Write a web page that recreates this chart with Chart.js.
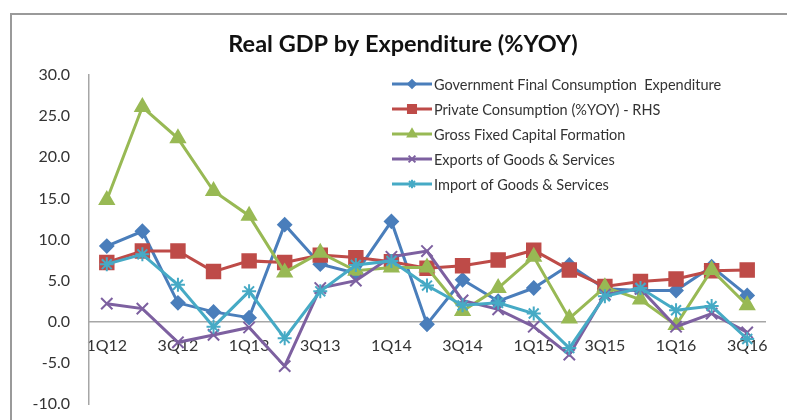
<!DOCTYPE html>
<html>
<head>
<meta charset="utf-8">
<script src="https://cdn.jsdelivr.net/npm/chart.js@4.4.1/dist/chart.umd.min.js"></script>
<style>
  html, body { margin: 0; padding: 0; background: #fff; overflow: hidden; }
  #wrap { position: relative; width: 787px; height: 420px; }
  #frame { position: absolute; left: 10px; top: 13px; width: 800px; height: 420px;
           border: 2px solid #9a9a9a; box-sizing: border-box; }
  canvas { position: absolute; left: 0; top: 0; }
</style>
</head>
<body>
<div id="wrap">
  <div id="frame"></div>
  <canvas id="myChart" width="787" height="420"></canvas>
</div>
<script>
// Quarters 1Q12 .. 3Q16
var quarters = ["1Q12", "2Q12", "3Q12", "4Q12", "1Q13", "2Q13", "3Q13", "4Q13",
                "1Q14", "2Q14", "3Q14", "4Q14", "1Q15", "2Q15", "3Q15", "4Q15",
                "1Q16", "2Q16", "3Q16"];

// %YOY values
var govConsumption = [9.2, 11.0, 2.3, 1.2, 0.5, 11.8, 7.0, 5.9, 12.2, -0.3, 5.1, 2.5, 4.1, 6.9, 4.0, 3.8, 3.8, 6.7, 3.2];
var privateConsumption = [7.2, 8.6, 8.6, 6.1, 7.4, 7.2, 8.1, 7.8, 7.3, 6.5, 6.8, 7.5, 8.7, 6.3, 4.3, 4.9, 5.2, 6.2, 6.3];
var grossFixedCapital = [14.8, 26.1, 22.3, 15.9, 12.9, 6.0, 8.4, 6.2, 6.6, 6.6, 1.3, 4.1, 7.9, 0.4, 4.2, 2.7, -0.4, 6.3, 2.0];
var exportsGS = [2.2, 1.6, -2.5, -1.6, -0.7, -5.4, 4.1, 5.0, 7.9, 8.6, 2.6, 1.5, -0.6, -4.0, 3.3, 4.0, -0.6, 1.0, -1.3];
var importsGS = [7.0, 8.2, 4.5, -0.6, 3.7, -2.0, 3.7, 6.9, 7.4, 4.4, 2.0, 2.3, 1.0, -3.2, 3.1, 4.1, 1.4, 1.9, -2.1];

var chartTitle = "Real GDP by Expenditure (%YOY)";
var FONT = "Lato, 'Open Sans', sans-serif";

function serie(label, data, color, style, radius, order) {
    return {
        label: label,
        data: data,
        borderColor: color,
        backgroundColor: color,
        pointBackgroundColor: color,
        pointBorderColor: color,
        pointStyle: style,
        pointRadius: radius,
        pointBorderWidth: 2,
        borderWidth: 3,
        tension: 0,
        order: order
    };
}

// title + legend drawn by hand, positioned like the Excel original
var excelDeco = {
    id: "excelDeco",
    afterDraw: function(chart) {
        var ctx = chart.ctx;
        var a = chart.chartArea;
        ctx.save();
        ctx.fillStyle = "#111";
        ctx.font = "bold 23.5px " + FONT;
        ctx.textAlign = "center";
        ctx.textBaseline = "middle";
        ctx.fillText(chartTitle, 403, 44);

        var x0 = a.left + 303, y0 = a.top + 9, step = 25;
        ctx.font = "14.5px " + FONT;
        ctx.textAlign = "left";
        chart.data.datasets.forEach(function(ds, i) {
            var y = y0 + i * step;
            ctx.strokeStyle = ds.borderColor;
            ctx.lineWidth = 3;
            ctx.beginPath();
            ctx.moveTo(x0, y);
            ctx.lineTo(x0 + 40, y);
            ctx.stroke();
            ctx.fillStyle = ds.borderColor;
            ctx.lineWidth = 2;
            Chart.helpers.drawPoint(ctx, {
                pointStyle: ds.pointStyle,
                radius: ds.pointRadius * 0.6,
                rotation: 0,
                borderWidth: 2
            }, x0 + 20, y);
            ctx.fillStyle = "#333";
            ctx.fillText(ds.label, x0 + 42, y + 1);
        });
        ctx.restore();
    }
};

var ctx = document.getElementById("myChart").getContext("2d");
var myChart = new Chart(ctx, {
    type: "line",
    data: {
        labels: quarters,
        datasets: [
            serie("Government Final Consumption  Expenditure", govConsumption, "#4A7EBB", "rectRot", 6.5, 5),
            serie("Private Consumption (%YOY) - RHS", privateConsumption, "#BE4B48", "rect", 9.5, 4),
            serie("Gross Fixed Capital Formation", grossFixedCapital, "#98B954", "triangle", 8, 3),
            serie("Exports of Goods & Services", exportsGS, "#7D60A0", "crossRot", 8, 2),
            serie("Import of Goods & Services", importsGS, "#46AAC5", "star", 7, 1)
        ]
    },
    options: {
        responsive: false,
        animation: false,
        devicePixelRatio: 1,
        layout: { padding: { top: 75, right: 22, bottom: 16, left: 0 } },
        plugins: {
            legend: { display: false },
            tooltip: { enabled: false },
            title: { display: false }
        },
        scales: {
            x: {
                type: "category",
                offset: true,
                position: { y: 0 },
                // axis sits on the zero line, so it should not eat layout space
                afterFit: function(s) { s.height = 0; s.paddingLeft = 0; s.paddingRight = 0; },
                grid: { display: false, drawTicks: false },
                border: { display: true, color: "#a6a6a6", width: 1.5 },
                ticks: {
                    autoSkip: false,
                    maxRotation: 0,
                    padding: 14,
                    color: "#333",
                    font: { family: FONT, size: 16 },
                    callback: function(v, i) { return i % 2 === 0 ? quarters[i] : ""; }
                }
            },
            y: {
                min: -10,
                max: 30,
                afterFit: function(s) { s.width = 89; s.paddingTop = 0; s.paddingBottom = 0; },
                grid: { display: false, drawTicks: false },
                border: { display: true, color: "#a6a6a6", width: 1.5 },
                ticks: {
                    stepSize: 5,
                    padding: 19,
                    color: "#333",
                    font: { family: FONT, size: 16 },
                    callback: function(v) { return v.toFixed(1); }
                }
            }
        }
    },
    plugins: [excelDeco]
});
</script>
</body>
</html>
